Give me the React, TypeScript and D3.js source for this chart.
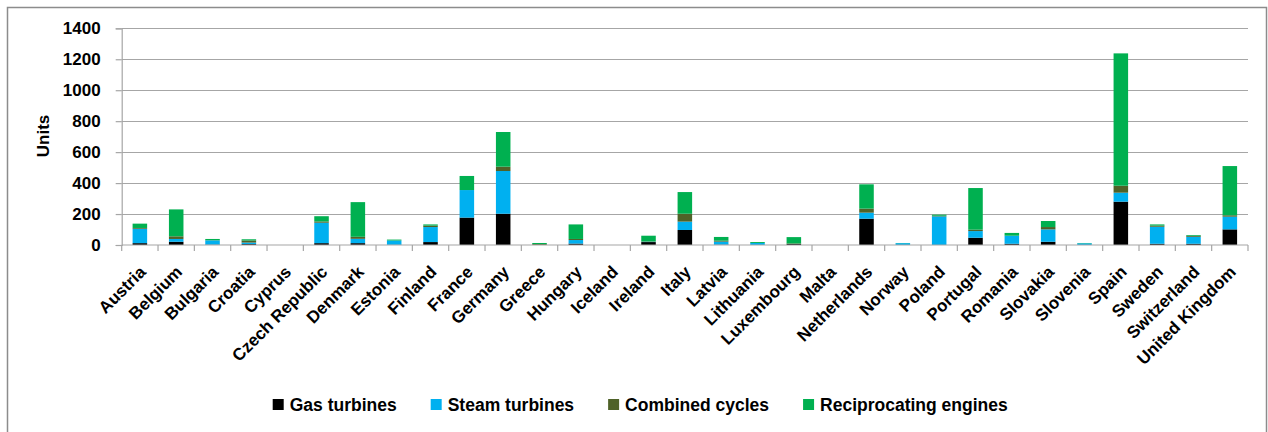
import React, { useEffect, useRef } from 'react';
import * as d3 from 'd3';

const countries = [
  'Austria', 'Belgium', 'Bulgaria', 'Croatia', 'Cyprus', 'Czech Republic', 'Denmark', 'Estonia',
  'Finland', 'France', 'Germany', 'Greece', 'Hungary', 'Iceland', 'Ireland', 'Italy', 'Latvia',
  'Lithuania', 'Luxembourg', 'Malta', 'Netherlands', 'Norway', 'Poland', 'Portugal', 'Romania',
  'Slovakia', 'Slovenia', 'Spain', 'Sweden', 'Switzerland', 'United Kingdom',
];

const gasTurbines = [12, 21, 2, 6, 0, 12, 12, 1, 19, 177, 202, 0, 9, 0, 19, 97, 2, 0, 7, 0, 170, 0, 0, 47, 8, 21, 0, 280, 8, 8, 101];
const steamTurbines = [93, 18, 28, 10, 0, 132, 28, 28, 97, 178, 276, 0, 23, 0, 2, 54, 20, 13, 0, 0, 39, 12, 185, 43, 52, 80, 11, 58, 110, 45, 82];
const combinedCycles = [5, 17, 1, 13, 0, 8, 13, 0, 9, 0, 28, 6, 7, 0, 2, 51, 6, 0, 3, 0, 26, 0, 4, 9, 0, 15, 0, 45, 7, 6, 9];
const recipEngines = [28, 174, 8, 8, 0, 34, 224, 6, 8, 91, 224, 7, 94, 0, 37, 140, 24, 6, 41, 0, 157, 1, 7, 269, 18, 39, 2, 855, 8, 5, 318];

const seriesNames = ['Gas turbines', 'Steam turbines', 'Combined cycles', 'Reciprocating engines'];
const seriesColors = ['#000000', '#00B0F0', '#4F6228', '#00B050'];
const yTicks = [0, 200, 400, 600, 800, 1000, 1200, 1400];

const FONT = '"Liberation Sans", Arial, sans-serif';

export default function App() {
  const ref = useRef<SVGSVGElement | null>(null);

  useEffect(() => {
    if (!ref.current) return;
    const svg = d3.select(ref.current);
    svg.selectAll('*').remove();

    const width = 1268;
    const height = 432;

    svg.append('rect').attr('width', width).attr('height', height).attr('fill', '#fff');
    // chart frame
    svg.append('rect')
      .attr('x', 7.5).attr('y', 7.5)
      .attr('width', 1259).attr('height', 440)
      .attr('fill', 'none')
      .attr('stroke', '#8c8c8c')
      .attr('stroke-width', 1.5);

    const x = d3.scaleBand<string>()
      .domain(countries)
      .range([121.7, 1248])
      .paddingInner(0.6)
      .paddingOuter(0.3);

    const y = d3.scaleLinear().domain([0, 1400]).range([245, 28.3]);

    // gridlines
    svg.append('g')
      .selectAll('line')
      .data(yTicks.filter(d => d > 0))
      .join('line')
      .attr('x1', 121.7).attr('x2', 1248)
      .attr('y1', d => Math.round(y(d)) + 0.5).attr('y2', d => Math.round(y(d)) + 0.5)
      .attr('stroke', '#a6a6a6')
      .attr('stroke-width', 1.2);

    // stacked bars
    const rows = countries.map((c, i) => ({
      country: c,
      'Gas turbines': gasTurbines[i],
      'Steam turbines': steamTurbines[i],
      'Combined cycles': combinedCycles[i],
      'Reciprocating engines': recipEngines[i],
    }));
    const stack = d3.stack<any>().keys(seriesNames)(rows);

    svg.append('g')
      .selectAll('g')
      .data(stack)
      .join('g')
      .attr('fill', (_d, i) => seriesColors[i])
      .selectAll('rect')
      .data(d => d)
      .join('rect')
      .attr('x', d => x(d.data.country)!)
      .attr('width', x.bandwidth())
      .attr('y', d => y(d[1]))
      .attr('height', d => Math.max(0, y(d[0]) - y(d[1])));

    // y axis
    const yAxis = svg.append('g')
      .attr('transform', 'translate(121.7,0)')
      .call(d3.axisLeft(y).tickValues(yTicks).tickFormat(d3.format('d')).tickSize(6).tickPadding(15));
    yAxis.select('.domain').attr('stroke', '#a6a6a6').attr('stroke-width', 1.2);
    yAxis.selectAll('.tick line').attr('stroke', '#a6a6a6').attr('stroke-width', 1.2);
    yAxis.selectAll('text')
      .attr('fill', '#000')
      .style('font-family', FONT)
      .style('font-weight', 'bold')
      .style('font-size', '17px');

    // x axis
    const xAxis = svg.append('g')
      .attr('transform', 'translate(0,245)');
    xAxis.append('line')
      .attr('x1', 121.7).attr('x2', 1248)
      .attr('y1', 0).attr('y2', 0)
      .attr('stroke', '#a6a6a6').attr('stroke-width', 1.2);
    const step = x.step();
    const boundaries = d3.range(countries.length + 1).map(i => 121.7 + i * step);
    xAxis.selectAll('line.tk')
      .data(boundaries)
      .join('line')
      .attr('class', 'tk')
      .attr('x1', d => d).attr('x2', d => d)
      .attr('y1', 0).attr('y2', 6)
      .attr('stroke', '#a6a6a6').attr('stroke-width', 1.2);

    xAxis.selectAll('text')
      .data(countries)
      .join('text')
      .attr('transform', d => `translate(${x(d)! + x.bandwidth() / 2 - 2},${19}) rotate(-45)`)
      .attr('text-anchor', 'end')
      .attr('dy', '0.75em')
      .attr('fill', '#000')
      .style('font-family', FONT)
      .style('font-weight', 'bold')
      .style('font-size', '17px')
      .text(d => d);

    // y axis title
    svg.append('text')
      .attr('transform', 'translate(43,136) rotate(-90)')
      .attr('text-anchor', 'middle')
      .attr('dy', '0.35em')
      .style('font-family', FONT)
      .style('font-weight', 'bold')
      .style('font-size', '17px')
      .text('Units');

    // legend
    const legend = svg.append('g');
    let lx = 272.7;
    seriesNames.forEach((name, i) => {
      legend.append('rect')
        .attr('x', lx).attr('y', 399)
        .attr('width', 11).attr('height', 11)
        .attr('fill', seriesColors[i]);
      const t = legend.append('text')
        .attr('x', lx + 17).attr('y', 404.5)
        .attr('dy', '0.35em')
        .style('font-family', FONT)
        .style('font-weight', 'bold')
        .style('font-size', '17.5px')
        .text(name);
      const w = (t.node() as SVGTextElement).getComputedTextLength();
      lx = lx + 17 + w + 34;
    });
  }, []);

  return (
    <svg
      ref={ref}
      width={1268}
      height={432}
      style={{ position: 'absolute', left: 0, top: 0, display: 'block' }}
    />
  );
}
